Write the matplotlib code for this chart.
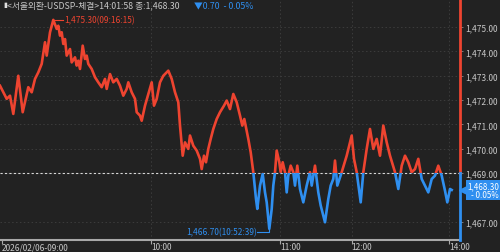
import numpy as np
import matplotlib
matplotlib.use('Agg')
import matplotlib.pyplot as plt
from matplotlib.patches import Rectangle

plt.rcParams['font.family'] = ['Noto Sans CJK KR', 'DejaVu Sans']

# trade sequence position and price
seq = [0, 6.7, 10, 13.3, 18.3, 22.7, 28.3, 31.7, 35, 38.3, 41.7, 45, 46.7, 50, 53.3,
       56.7, 58.3, 60, 61.7, 63.3, 65, 66.7, 70, 71.7, 75, 76.7, 78.3, 80, 82.7, 85,
       86.7, 88.3, 91.7, 95, 98.3, 101.7, 105, 106.7, 110, 113.3, 116.7, 120, 123.3,
       126.7, 128.3, 131.7, 135, 136.7, 140, 141.7, 145, 148.3, 151.7, 154, 156.7,
       160, 163.3, 168.3, 171.7, 175, 178.3, 180, 182.7, 185, 188.3, 190, 193.3,
       196.7, 200, 201.7, 204, 206, 208.3, 210.7, 213.3, 216.7, 220, 224, 226.7,
       230, 233.3, 236.7, 240, 242.3, 244.3, 248.3, 250.7, 253.3, 256, 257.3, 260,
       262.7, 265, 266.7, 269.3, 271.7, 273.3, 275, 276.7, 279.3, 280.7, 282.7,
       285, 286.7, 288.3, 290.7, 293.3, 295, 297.3, 300, 303.3, 306.7, 310, 311.7,
       315, 318.3, 320.7, 325, 328.3, 330.7, 333.3, 335, 337.3, 341.7, 346.7, 351.7,
       354, 356.7, 360.7, 363.3, 366.7, 370, 373.3, 376.7, 380, 383.3, 386.7, 390,
       395, 398.3, 401.7, 405, 408.3, 411.7, 415, 418.3, 421.7, 428.3, 431.7, 435,
       438.3, 441.7, 445, 447.3, 450, 451.7]
price = [1472.59, 1472.05, 1472.18, 1471.43, 1473.00, 1471.50, 1472.53, 1472.32,
         1472.87, 1473.14, 1473.49, 1474.38, 1473.83, 1474.79, 1475.30, 1474.93,
         1475.06, 1474.65, 1474.79, 1474.31, 1474.51, 1473.83, 1474.10, 1473.55,
         1473.76, 1473.42, 1473.62, 1473.28, 1474.24, 1473.69, 1473.83, 1473.49,
         1473.28, 1472.94, 1472.73, 1472.53, 1472.87, 1472.46, 1473.07, 1472.73,
         1472.87, 1472.59, 1472.18, 1472.46, 1472.73, 1472.32, 1472.05, 1471.50,
         1471.36, 1471.15, 1471.77, 1472.25, 1472.73, 1471.77, 1472.05, 1472.73,
         1473.00, 1473.21, 1472.87, 1472.32, 1471.91, 1470.95, 1469.71, 1470.26,
         1469.99, 1470.54, 1470.12, 1469.92, 1469.58, 1469.16, 1469.71, 1469.44,
         1469.99, 1470.40, 1470.81, 1471.22, 1471.50, 1471.77, 1471.98, 1471.63,
         1472.25, 1471.91, 1471.36, 1470.95, 1471.22, 1470.40, 1469.85, 1469.03,
         1467.93, 1467.52, 1468.48, 1468.96, 1468.20, 1467.79, 1466.70, 1467.52,
         1468.48, 1469.03, 1469.92, 1469.44, 1469.03, 1469.44, 1469.03, 1468.20,
         1468.89, 1469.30, 1469.03, 1468.48, 1469.30, 1468.34, 1467.79, 1468.48,
         1469.03, 1468.48, 1469.30, 1468.20, 1467.66, 1466.97, 1467.93, 1468.48,
         1468.75, 1469.51, 1468.48, 1469.03, 1469.71, 1470.54, 1469.58, 1469.03,
         1467.79, 1469.03, 1469.99, 1470.81, 1469.99, 1470.40, 1469.71, 1470.95,
         1470.26, 1469.71, 1469.03, 1468.34, 1469.30, 1469.71, 1469.44, 1469.03,
         1469.16, 1469.58, 1468.75, 1468.20, 1468.75, 1468.89, 1469.30, 1468.89,
         1468.27, 1467.79, 1468.34, 1468.30]

base = 1469.00          # previous close
yticks = [1467, 1469, 1470, 1471, 1472, 1473, 1474, 1475]
xtick_pos = [1.7, 151, 280, 351.7, 449]
xtick_lab = ['2026/02/06-09:00', '10:00', '11:00', '12:00', '14:00']
title_main = '<서울외환-USDSP-체결>14:01:58 종:1,468.30'
title_chg = '▼0.70  - 0.05%'
hi_lab = '1,475.30(09:16:15)'
lo_lab = '1,466.70(10:52:39)'
last_lab = '1,468.30\n- 0.05%'

RED = '#ee4430'
BLUE = '#2f8ff0'
BG = '#222222'
TXT = '#c8c8c8'

seq = np.array(seq)
price = np.array(price)
ymin, ymax = 1466.24, 1476.16
xmax = 460

fig = plt.figure(figsize=(5, 2.53), dpi=100, facecolor=BG)
ax = fig.add_axes([0, 12/253, 460/500, 241/253])
ax.set_facecolor(BG)
ax.set_xlim(0, xmax)
ax.set_ylim(ymin, ymax)

# grid
for y in yticks:
    ax.axhline(y, color='#3c3c3c', lw=0.7, ls=(0, (1.5, 2.5)), zorder=1)
for x in xtick_pos[1:]:
    ax.axvline(x, color='#3c3c3c', lw=0.7, ls=(0, (1.5, 2.5)), zorder=1)
ax.axhline(base, color='#d8d8d8', lw=0.8, ls=(0, (2, 2)), zorder=2)

# price line, red above previous close, blue below
up, = ax.plot(seq, price, color=RED, lw=1.9, zorder=3)
dn, = ax.plot(seq, price, color=BLUE, lw=1.9, zorder=3)
up.set_clip_path(Rectangle((0, base), xmax, ymax - base, transform=ax.transData))
dn.set_clip_path(Rectangle((0, ymin), xmax, base - ymin, transform=ax.transData))

# right axis bar
ax.plot([xmax, xmax], [base, ymax], color=RED, lw=2, clip_on=False, zorder=4)
ax.plot([xmax, xmax], [ymin, base], color=BLUE, lw=2, clip_on=False, zorder=4)

# high / low labels
i_hi = np.argmax(price)
i_lo = np.argmin(price)
ax.plot([seq[i_hi], seq[i_hi] + 10], [price[i_hi], price[i_hi]], color=RED, lw=0.8)
ax.text(seq[i_hi] + 10.5, price[i_hi], hi_lab, color=RED, fontsize=6,
        ha='left', va='center')
ly = price[i_lo] - 0.12
ax.plot([seq[i_lo] - 12, seq[i_lo], seq[i_lo]], [ly, ly, price[i_lo]],
        color=BLUE, lw=0.8)
ax.text(seq[i_lo] - 12.5, ly, lo_lab, color=BLUE, fontsize=6,
        ha='right', va='center')

# last price box
ax.plot([xmax + 3], [price[-1]], marker='<', ms=6, color=BLUE, clip_on=False, zorder=5)
ax.text(xmax + 39, price[-1], last_lab, color='white', fontsize=5.8,
        ha='right', va='center', linespacing=0.9, clip_on=False, zorder=6,
        bbox=dict(boxstyle='square,pad=0.2', fc=BLUE, ec='none'))

# axes
for s in ['top', 'left', 'right']:
    ax.spines[s].set_visible(False)
ax.spines['bottom'].set_color('#a8a8a8')
ax.spines['bottom'].set_linewidth(1.5)
ax.yaxis.tick_right()
ax.set_yticks(yticks)
ax.set_yticklabels(['{:,.2f}'.format(v) for v in yticks])
ax.tick_params(axis='y', colors='#888888', labelcolor=TXT, labelsize=6,
               length=2, width=0.6, pad=1.5)
ax.set_xticks(xtick_pos)
ax.set_xticklabels(xtick_lab)
ax.tick_params(axis='x', colors='#a8a8a8', labelcolor=TXT, labelsize=6,
               length=3, width=0.8, pad=-1.5)
for lab in ax.get_xticklabels():
    lab.set_ha('left')

# title
fig.text(0.006, 0.995, '▮', color='#e0e0e0', fontsize=5, ha='left', va='top')
fig.text(0.014, 0.995, title_main, color=TXT, fontsize=6.3, ha='left', va='top')
fig.text(0.387, 0.995, title_chg, color=BLUE, fontsize=6.3, ha='left', va='top')

fig.savefig('out.png', dpi=100, facecolor=BG)
